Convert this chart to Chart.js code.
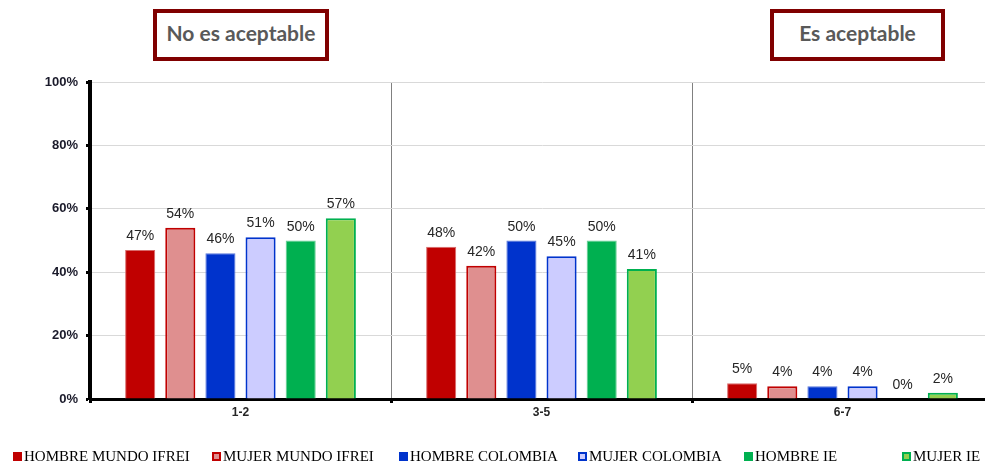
<!DOCTYPE html>
<html>
<head>
<meta charset="utf-8">
<script src="https://cdn.jsdelivr.net/npm/chart.js@4/dist/chart.umd.min.js"></script>
<style>
  html, body { margin: 0; padding: 0; background: #fff; overflow: hidden; }
  #wrap { position: relative; width: 985px; height: 463px; overflow: hidden; }
  #c { position: absolute; left: 0; top: 0; }
  .tag {
    position: absolute; box-sizing: border-box; height: 52px; padding-bottom: 6px;
    border: 4px solid #800000; background: #fff;
    font-family: Lato, "Open Sans", sans-serif; font-weight: bold; font-size: 21px;
    color: #595959; display: flex; align-items: center; justify-content: center;
  }
  .lg {
    position: absolute; top: 447px; font-family: "Liberation Serif", "Times New Roman", serif;
    font-size: 15px; color: #000; white-space: nowrap; line-height: 18px;
  }
  .lg i {
    display: inline-block; box-sizing: border-box; width: 9px; height: 9px;
    margin-right: 2px; vertical-align: 0px;
  }
</style>
</head>
<body>
<div id="wrap">
  <canvas id="c" width="1000" height="463"></canvas>
  <div class="tag" style="left:153px; top:9px; width:176px;">No es aceptable</div>
  <div class="tag" style="left:770px; top:9px; width:175px;">Es aceptable</div>
  <div id="legend"></div>
</div>
<script>
// Rating bands on the x axis
const categories = ['1-2', '3-5', '6-7'];

// Percentage of respondents per group and band
const hombreMundoIfrei = [47, 48, 5];
const mujerMundoIfrei  = [54, 42, 4];
const hombreColombia   = [46, 50, 4];
const mujerColombia    = [51, 45, 4];
const hombreIE         = [50, 50, 0];
const mujerIE          = [57, 41, 2];

const seriesNames = ['HOMBRE MUNDO IFREI', 'MUJER MUNDO IFREI', 'HOMBRE COLOMBIA',
                     'MUJER COLOMBIA', 'HOMBRE IE', 'MUJER IE'];

const yTicks = [0, 20, 40, 60, 80, 100];

const styles = [
  { bg: '#C00000', border: '#D86A6A', bw: 1 },
  { bg: '#DF8F8F', border: '#C00000', bw: 2 },
  { bg: '#0033CC', border: '#5A78DA', bw: 1 },
  { bg: '#CCCCFF', border: '#0033CC', bw: 2 },
  { bg: '#00B050', border: '#66CF93', bw: 1 },
  { bg: '#92D050', border: '#00B050', bw: 2 }
];
const seriesValues = [hombreMundoIfrei, mujerMundoIfrei, hombreColombia,
                      mujerColombia, hombreIE, mujerIE];

const datasets = seriesValues.map((vals, i) => ({
  label: seriesNames[i],
  data: vals,
  backgroundColor: styles[i].bg,
  borderColor: styles[i].border,
  borderWidth: styles[i].bw,
  categoryPercentage: 0.8,
  barPercentage: 0.75
}));

// Value labels above every bar
const valueLabels = {
  id: 'valueLabels',
  afterDatasetsDraw(chart) {
    const ctx = chart.ctx;
    ctx.save();
    ctx.font = '14px "Liberation Sans", Arial, sans-serif';
    ctx.fillStyle = '#262626';
    ctx.textAlign = 'center';
    ctx.textBaseline = 'alphabetic';
    chart.data.datasets.forEach((ds, di) => {
      chart.getDatasetMeta(di).data.forEach((bar, i) => {
        ctx.fillText(ds.data[i] + '%', bar.x, bar.y - 10);
      });
    });
    ctx.restore();
  }
};

new Chart(document.getElementById('c'), {
  type: 'bar',
  data: { labels: categories, datasets },
  options: {
    responsive: false,
    animation: false,
    layout: { padding: { left: 0, top: 82, right: 7, bottom: 34 } },
    plugins: { legend: { display: false }, tooltip: { enabled: false } },
    scales: {
      x: {
        grid: { offset: true, color: '#808080', lineWidth: 1, tickColor: '#000',
                tickLength: 4, tickWidth: 3 },
        border: { display: true, color: '#000', width: 3 },
        ticks: { color: '#262626', padding: 2,
                 font: { family: '"Liberation Sans", Arial, sans-serif', size: 12, weight: 'bold' } },
        afterFit(scale) { scale.height = 30; }
      },
      y: {
        min: 0, max: 100,
        afterBuildTicks(scale) { scale.ticks = yTicks.map(v => ({ value: v })); },
        grid: { color: '#d9d9d9', lineWidth: 1, tickColor: '#000', tickLength: 4, tickWidth: 3 },
        border: { display: true, color: '#000', width: 4 },
        ticks: { color: '#1a1a2a', padding: 8, callback: v => v + '%',
                 font: { family: '"Liberation Sans", Arial, sans-serif', size: 13, weight: 'bold' } },
        afterFit(scale) { scale.width = 90; }
      }
    }
  },
  plugins: [valueLabels]
});

// Legend row under the chart
const legendX = [13, 212, 399, 578, 744, 902];
const legend = document.getElementById('legend');
seriesNames.forEach((name, i) => {
  const item = document.createElement('div');
  item.className = 'lg';
  item.style.left = legendX[i] + 'px';
  const box = document.createElement('i');
  box.style.background = styles[i].bg;
  if (styles[i].bw === 2) box.style.border = '2px solid ' + styles[i].border;
  item.appendChild(box);
  item.appendChild(document.createTextNode(name));
  legend.appendChild(item);
});
</script>
</body>
</html>
